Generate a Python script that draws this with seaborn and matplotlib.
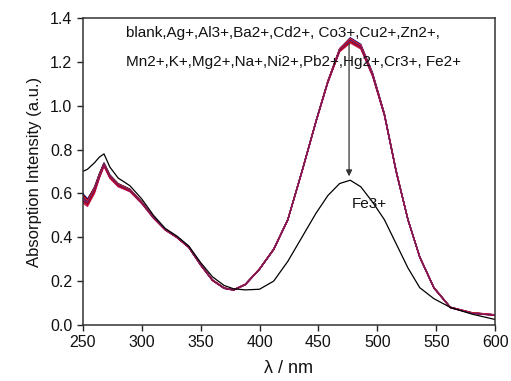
import numpy as np
import pandas as pd
import matplotlib
matplotlib.use('Agg')
import matplotlib.pyplot as plt
import seaborn as sns

# Wavelength grid (nm)
wavelength = [250, 254, 260, 264, 268, 273, 280, 290, 300, 310, 320, 330, 340, 350,
              360, 370, 378, 388, 400, 412, 424, 436, 448, 458, 468, 477, 486, 496,
              506, 516, 526, 536, 548, 562, 580, 600]

# Absorption of the probe with each metal ion
blank = [0.59, 0.57, 0.63, 0.69, 0.74, 0.685, 0.645, 0.62, 0.56, 0.49, 0.435, 0.40, 0.355, 0.275,
         0.205, 0.168, 0.16, 0.185, 0.255, 0.345, 0.48, 0.70, 0.93, 1.11, 1.26, 1.305, 1.275, 1.145,
         0.96, 0.70, 0.48, 0.31, 0.17, 0.08, 0.055, 0.045]
ag = [0.57, 0.55, 0.61, 0.675, 0.73, 0.675, 0.635, 0.61, 0.555, 0.49, 0.435, 0.40, 0.355, 0.275,
      0.205, 0.168, 0.16, 0.186, 0.256, 0.346, 0.48, 0.70, 0.93, 1.11, 1.25, 1.295, 1.265, 1.14,
      0.96, 0.70, 0.48, 0.31, 0.17, 0.08, 0.056, 0.046]
al = [0.58, 0.56, 0.62, 0.68, 0.735, 0.68, 0.64, 0.615, 0.56, 0.49, 0.435, 0.40, 0.355, 0.275,
      0.205, 0.168, 0.16, 0.185, 0.255, 0.345, 0.48, 0.70, 0.93, 1.11, 1.255, 1.30, 1.27, 1.14,
      0.96, 0.70, 0.48, 0.31, 0.17, 0.08, 0.055, 0.045]
ba = [0.60, 0.575, 0.625, 0.685, 0.735, 0.68, 0.64, 0.615, 0.56, 0.49, 0.437, 0.402, 0.356, 0.276,
      0.206, 0.169, 0.161, 0.186, 0.256, 0.346, 0.482, 0.702, 0.932, 1.112, 1.26, 1.31, 1.28, 1.15,
      0.965, 0.705, 0.482, 0.312, 0.172, 0.082, 0.057, 0.047]
cd = [0.565, 0.545, 0.605, 0.67, 0.725, 0.67, 0.632, 0.61, 0.555, 0.487, 0.433, 0.398, 0.353, 0.273,
      0.203, 0.167, 0.159, 0.184, 0.254, 0.343, 0.478, 0.697, 0.927, 1.105, 1.248, 1.29, 1.262, 1.135,
      0.955, 0.697, 0.478, 0.308, 0.168, 0.079, 0.054, 0.044]
co = [0.585, 0.565, 0.62, 0.68, 0.73, 0.678, 0.64, 0.617, 0.562, 0.492, 0.436, 0.401, 0.356, 0.276,
      0.206, 0.169, 0.161, 0.186, 0.257, 0.347, 0.482, 0.702, 0.932, 1.113, 1.258, 1.302, 1.272, 1.143,
      0.962, 0.702, 0.481, 0.311, 0.171, 0.081, 0.056, 0.046]
cu = [0.575, 0.555, 0.615, 0.677, 0.732, 0.677, 0.638, 0.613, 0.558, 0.489, 0.434, 0.399, 0.354, 0.274,
      0.204, 0.167, 0.159, 0.184, 0.254, 0.344, 0.479, 0.699, 0.929, 1.108, 1.252, 1.296, 1.266, 1.138,
      0.958, 0.698, 0.479, 0.309, 0.169, 0.079, 0.054, 0.044]
zn = [0.59, 0.565, 0.625, 0.685, 0.738, 0.683, 0.642, 0.617, 0.561, 0.49, 0.435, 0.40, 0.355, 0.275,
      0.205, 0.168, 0.16, 0.185, 0.255, 0.345, 0.48, 0.70, 0.93, 1.11, 1.256, 1.301, 1.271, 1.142,
      0.961, 0.701, 0.48, 0.31, 0.17, 0.08, 0.055, 0.045]
mn = [0.555, 0.54, 0.60, 0.668, 0.722, 0.668, 0.63, 0.607, 0.553, 0.486, 0.432, 0.397, 0.352, 0.272,
      0.202, 0.166, 0.158, 0.183, 0.253, 0.342, 0.477, 0.696, 0.925, 1.103, 1.245, 1.285, 1.258, 1.132,
      0.953, 0.695, 0.477, 0.307, 0.167, 0.078, 0.053, 0.043]
k = [0.58, 0.56, 0.62, 0.68, 0.733, 0.679, 0.64, 0.615, 0.56, 0.49, 0.435, 0.40, 0.355, 0.275,
     0.205, 0.168, 0.16, 0.185, 0.255, 0.345, 0.48, 0.70, 0.93, 1.11, 1.254, 1.298, 1.268, 1.14,
     0.96, 0.70, 0.48, 0.31, 0.17, 0.08, 0.055, 0.045]
mg = [0.595, 0.57, 0.628, 0.687, 0.737, 0.682, 0.643, 0.618, 0.562, 0.492, 0.437, 0.401, 0.356, 0.276,
      0.206, 0.169, 0.161, 0.186, 0.256, 0.346, 0.481, 0.701, 0.931, 1.111, 1.258, 1.304, 1.274, 1.145,
      0.963, 0.703, 0.481, 0.311, 0.171, 0.081, 0.056, 0.046]
na = [0.57, 0.552, 0.612, 0.675, 0.729, 0.674, 0.636, 0.612, 0.557, 0.489, 0.434, 0.399, 0.354, 0.274,
      0.204, 0.167, 0.159, 0.184, 0.254, 0.344, 0.479, 0.698, 0.928, 1.107, 1.25, 1.293, 1.264, 1.137,
      0.957, 0.698, 0.479, 0.309, 0.169, 0.079, 0.054, 0.044]
ni = [0.585, 0.562, 0.622, 0.682, 0.734, 0.68, 0.641, 0.616, 0.561, 0.491, 0.436, 0.40, 0.355, 0.275,
      0.205, 0.168, 0.16, 0.185, 0.255, 0.345, 0.48, 0.70, 0.93, 1.11, 1.257, 1.302, 1.273, 1.143,
      0.961, 0.701, 0.48, 0.31, 0.17, 0.08, 0.055, 0.046]
pb = [0.562, 0.547, 0.607, 0.672, 0.727, 0.672, 0.634, 0.611, 0.556, 0.488, 0.433, 0.398, 0.353, 0.273,
      0.203, 0.167, 0.159, 0.184, 0.254, 0.343, 0.478, 0.697, 0.927, 1.106, 1.249, 1.291, 1.263, 1.136,
      0.956, 0.697, 0.478, 0.308, 0.168, 0.079, 0.054, 0.044]
hg = [0.578, 0.558, 0.618, 0.679, 0.733, 0.678, 0.639, 0.614, 0.559, 0.49, 0.435, 0.40, 0.355, 0.275,
      0.205, 0.168, 0.16, 0.185, 0.255, 0.345, 0.48, 0.70, 0.93, 1.11, 1.255, 1.299, 1.269, 1.141,
      0.96, 0.70, 0.48, 0.31, 0.17, 0.08, 0.056, 0.046]
cr = [0.588, 0.566, 0.624, 0.684, 0.736, 0.681, 0.642, 0.617, 0.561, 0.491, 0.436, 0.401, 0.356, 0.276,
      0.206, 0.169, 0.161, 0.186, 0.256, 0.346, 0.481, 0.701, 0.931, 1.112, 1.259, 1.306, 1.276, 1.146,
      0.963, 0.703, 0.481, 0.311, 0.171, 0.081, 0.057, 0.047]
fe2 = [0.582, 0.561, 0.621, 0.681, 0.735, 0.68, 0.64, 0.615, 0.56, 0.49, 0.435, 0.40, 0.355, 0.275,
       0.205, 0.168, 0.16, 0.185, 0.255, 0.345, 0.48, 0.70, 0.93, 1.11, 1.256, 1.30, 1.27, 1.142,
       0.96, 0.70, 0.48, 0.31, 0.17, 0.08, 0.055, 0.045]
fe3 = [0.70, 0.71, 0.74, 0.765, 0.78, 0.72, 0.67, 0.635, 0.575, 0.50, 0.44, 0.405, 0.36, 0.285,
       0.22, 0.18, 0.165, 0.16, 0.163, 0.20, 0.29, 0.40, 0.51, 0.59, 0.645, 0.66, 0.63, 0.56,
       0.48, 0.37, 0.26, 0.17, 0.12, 0.08, 0.05, 0.025]

ion_names = ['blank', 'Ag+', 'Al3+', 'Ba2+', 'Cd2+', 'Co3+', 'Cu2+', 'Zn2+', 'Mn2+', 'K+',
             'Mg2+', 'Na+', 'Ni2+', 'Pb2+', 'Hg2+', 'Cr3+', 'Fe2+']
ion_spectra = [blank, ag, al, ba, cd, co, cu, zn, mn, k, mg, na, ni, pb, hg, cr, fe2]

# Origin-like colours, reds / purples plotted last so they sit on top
ion_colors = ['#000000', '#0000FF', '#808000', '#000080', '#8000FF', '#FF8000', '#008080',
              '#0080FF', '#C02060', '#808080', '#800000', '#B00040', '#400080', '#C00000',
              '#802050', '#FF2020', '#6A1B6A']

rows = []
for name, vals in zip(ion_names, ion_spectra):
    for w, v in zip(wavelength, vals):
        rows.append({'wl': w, 'abs': v, 'ion': name})
df = pd.DataFrame(rows)

sns.set_theme(style='white')
plt.rcParams['font.family'] = ['Liberation Sans', 'DejaVu Sans']

fig = plt.figure(figsize=(5.11, 3.81), dpi=100)
ax = fig.add_axes([0.162, 0.147, 0.807, 0.806])

sns.lineplot(data=df, x='wl', y='abs', hue='ion', palette=dict(zip(ion_names, ion_colors)),
             hue_order=ion_names, linewidth=0.8, legend=False, ax=ax, sort=False)
sns.lineplot(x=wavelength, y=fe3, color='black', linewidth=0.9, ax=ax)

ax.set_xlim(250, 600)
ax.set_ylim(0, 1.4)
ax.set_xticks([250, 300, 350, 400, 450, 500, 550, 600])
ax.set_yticks([0.0, 0.2, 0.4, 0.6, 0.8, 1.0, 1.2, 1.4])
ax.yaxis.set_major_formatter(matplotlib.ticker.FormatStrFormatter('%.1f'))
ax.tick_params(axis='both', direction='out', length=4, width=1, colors='#222222',
               labelsize=11.5, labelcolor='#111111', bottom=True, left=True, top=False, right=False)
for s in ax.spines.values():
    s.set_color('#333333')
    s.set_linewidth(1.1)

ax.set_xlabel('λ / nm', fontsize=13, color='#111111', labelpad=7)
ax.set_ylabel('Absorption Intensity (a.u.)', fontsize=12, color='#111111', labelpad=6)

ax.text(287, 1.33, 'blank,Ag+,Al3+,Ba2+,Cd2+, Co3+,Cu2+,Zn2+,', fontsize=11, va='center',
        color='#111111')
ax.text(287, 1.20, 'Mn2+,K+,Mg2+,Na+,Ni2+,Pb2+,Hg2+,Cr3+, Fe2+', fontsize=11, va='center',
        color='#111111')
ax.annotate('', xy=(476, 0.665), xytext=(476, 1.295),
            arrowprops=dict(arrowstyle='-|>', color='#333333', lw=0.9, mutation_scale=9))
ax.text(478, 0.55, 'Fe3+', fontsize=11, va='center', color='#111111')

fig.savefig('out.png', dpi=100)
